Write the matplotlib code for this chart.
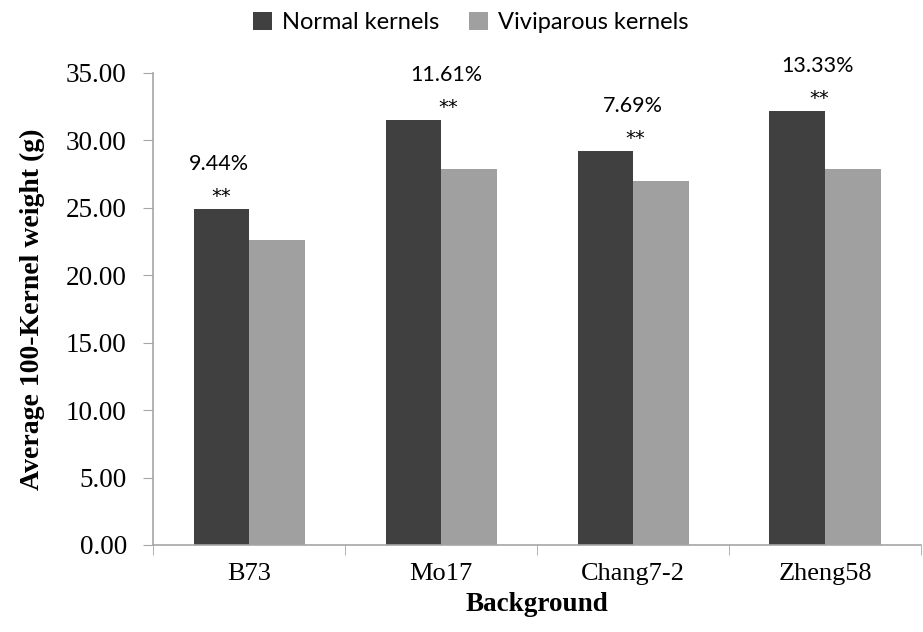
import matplotlib.pyplot as plt
import numpy as np
from matplotlib.ticker import FixedLocator

backgrounds = ["B73", "Mo17", "Chang7-2", "Zheng58"]
normal_kernels = [24.95, 31.50, 29.25, 32.15]
viviparous_kernels = [22.60, 27.85, 27.00, 27.87]
reduction_labels = ["9.44%", "11.61%", "7.69%", "13.33%"]
signif_labels = ["**", "**", "**", "**"]

dark = "#404040"
light = "#a0a0a0"
axis_gray = "#a6a6a6"
serif = "Liberation Serif"
sans = "Lato"

fig = plt.figure(figsize=(9.23, 6.32), dpi=100)
ax = fig.add_axes([0.166, 0.1377, 0.832, 0.7468])

x = np.arange(len(backgrounds))
w = 0.29
ax.bar(x - w / 2, normal_kernels, w, color=dark, label="Normal kernels", zorder=2)
ax.bar(x + w / 2, viviparous_kernels, w, color=light, label="Viviparous kernels", zorder=2)

# annotations above each group (pixel offsets from the normal bar top)
x_shift = [-30, 5, 0, -8]
for i in range(len(backgrounds)):
    ax.annotate(signif_labels[i], (x[i], normal_kernels[i]), xytext=(x_shift[i] + 2, 7),
                textcoords="offset pixels", ha="center", va="baseline",
                fontsize=14, family="DejaVu Sans", annotation_clip=False)
    ax.annotate(reduction_labels[i], (x[i], normal_kernels[i]), xytext=(x_shift[i], 39),
                textcoords="offset pixels", ha="center", va="baseline",
                fontsize=15.5, family=sans, annotation_clip=False)

ax.set_xlim(-0.5, 3.5)
ax.set_ylim(0, 35)
ax.set_yticks(np.arange(0, 36, 5))
ax.set_yticklabels(["%.2f" % v for v in np.arange(0, 36, 5)], family=serif, fontsize=19.5)
ax.set_xticks(x)
ax.set_xticklabels(backgrounds, family=serif, fontsize=19)
ax.xaxis.set_minor_locator(FixedLocator(np.arange(-0.5, 4, 1)))
ax.tick_params(axis="x", which="major", length=0, pad=13)
ax.tick_params(axis="x", which="minor", length=7, color=axis_gray, direction="out")
ax.tick_params(axis="y", length=7, color=axis_gray, direction="out", pad=12)

for s in ["top", "right"]:
    ax.spines[s].set_visible(False)
for s in ["left", "bottom"]:
    ax.spines[s].set_color(axis_gray)
    ax.spines[s].set_linewidth(1.2)

ax.set_xlabel("Background", family=serif, fontsize=19.5, fontweight="bold", labelpad=5)
ax.set_ylabel("Average 100-Kernel weight (g)", family=serif, fontsize=20,
              fontweight="bold", labelpad=15)

fig.legend(loc="center", bbox_to_anchor=(0.51, 0.965), ncol=2, frameon=False,
           prop={"family": sans, "size": 17}, handlelength=0.8, handleheight=0.8,
           columnspacing=1.3, handletextpad=0.4)

fig.savefig("out.png", dpi=100)
